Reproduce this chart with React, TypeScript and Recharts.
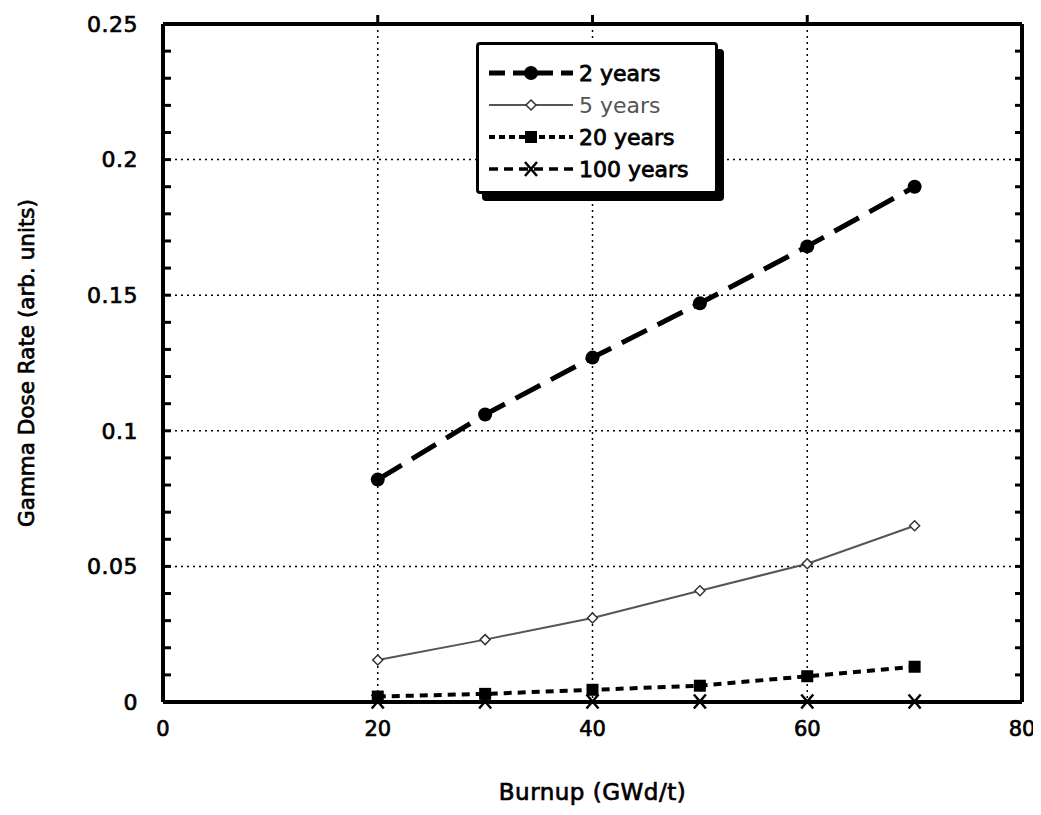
import { CartesianGrid, Legend, Line, LineChart, XAxis, YAxis } from "recharts";

const burnup = [20, 30, 40, 50, 60, 70];
const years2 = [0.082, 0.106, 0.127, 0.147, 0.168, 0.19];
const years5 = [0.0155, 0.023, 0.031, 0.041, 0.051, 0.065];
const years20 = [0.002, 0.003, 0.0045, 0.006, 0.0095, 0.013];
const years100 = [0.0002, 0.0002, 0.0002, 0.0002, 0.0002, 0.0002];

const xTicks = [0, 20, 40, 60, 80];
const xTopTicks = [20, 40, 60];
const yTicks = [0, 0.05, 0.1, 0.15, 0.2, 0.25];
const yMinorTicks = Array.from({ length: 26 }, (_, i) => i / 100);

const data = burnup.map((b, i) => ({
  burnup: b,
  y2: years2[i],
  y5: years5[i],
  y20: years20[i],
  y100: years100[i],
}));

const FONT = "'DejaVu Sans', 'Liberation Sans', Arial, sans-serif";
const textStyle = { fill: "#000", fontFamily: FONT, stroke: "#000", strokeWidth: 0.7 };
const blank = () => "";
const majorOnly = (v: number) => (yTicks.some((t) => Math.abs(t - v) < 1e-9) ? String(v) : "");

const Circle = (p: any) => <circle cx={p.cx} cy={p.cy} r={7} fill="#000" stroke="none" />;
const Diamond = (p: any) => (
  <path
    d={`M${p.cx},${p.cy - 5}L${p.cx + 5},${p.cy}L${p.cx},${p.cy + 5}L${p.cx - 5},${p.cy}Z`}
    fill="#fff"
    stroke="#333"
    strokeWidth={1.5}
  />
);
const Square = (p: any) => <rect x={p.cx - 6} y={p.cy - 6} width={12} height={12} fill="#000" />;
const Cross = (p: any) => (
  <path
    d={`M${p.cx - 6},${p.cy - 7}L${p.cx + 6},${p.cy + 7}M${p.cx + 6},${p.cy - 7}L${p.cx - 6},${p.cy + 7}`}
    stroke="#000"
    strokeWidth={2.5}
  />
);

const legendRows = [
  { label: "2 years", dash: "16 8", width: 5, marker: "circle", color: "#000" },
  { label: "5 years", dash: undefined, width: 2, marker: "diamond", color: "#555" },
  { label: "20 years", dash: "6 4", width: 4, marker: "square", color: "#000" },
  { label: "100 years", dash: "9 6", width: 3.5, marker: "cross", color: "#000" },
];

function LegendBox() {
  return (
    <div
      style={{
        width: 242,
        height: 152,
        border: "3px solid #000",
        borderRadius: 4,
        boxShadow: "6px 7px 0 #000",
        background: "#fff",
        boxSizing: "border-box",
        padding: "12px 0 0 8px",
        fontFamily: FONT,
      }}
    >
      {legendRows.map((r) => (
        <div key={r.label} style={{ display: "flex", alignItems: "center", height: 32 }}>
          <svg width={90} height={24}>
            <line x1={2} y1={12} x2={86} y2={12} stroke={r.color} strokeWidth={r.width} strokeDasharray={r.dash} />
            {r.marker === "circle" && <Circle cx={44} cy={12} />}
            {r.marker === "diamond" && <Diamond cx={44} cy={12} />}
            {r.marker === "square" && <Square cx={44} cy={12} />}
            {r.marker === "cross" && <Cross cx={44} cy={12} />}
          </svg>
          <span
            style={{
              fontSize: 22,
              color: r.label === "5 years" ? "#555" : "#000",
              WebkitTextStroke: r.label === "5 years" ? "0" : "0.8px #000",
              marginLeft: 2,
            }}
          >
            {r.label}
          </span>
        </div>
      ))}
    </div>
  );
}

export default function App() {
  return (
    <div style={{ margin: -8, width: 1041, height: 815, background: "#fff", position: "relative" }}>
      <LineChart width={1041} height={815} data={data} margin={{ top: 23, right: 18, left: 0, bottom: 0 }}>
        <CartesianGrid
          horizontalValues={[0.05, 0.1, 0.15, 0.2]}
          verticalValues={[20, 40, 60]}
          stroke="#000"
          strokeDasharray="2 4"
          strokeWidth={1.5}
        />
        <XAxis
          dataKey="burnup"
          type="number"
          domain={[0, 80]}
          ticks={xTicks}
          interval={0}
          height={113}
          axisLine={{ stroke: "#000", strokeWidth: 4 }}
          tickLine={false}
          tick={{ ...textStyle, fontSize: 21 }}
          tickMargin={13}
          label={{ value: "Burnup (GWd/t)", position: "insideBottom", offset: 15, fontSize: 23, letterSpacing: 0.5, ...textStyle }}
        />
        <XAxis
          xAxisId="top"
          orientation="top"
          dataKey="burnup"
          type="number"
          domain={[0, 80]}
          ticks={xTopTicks}
          interval={0}
          height={1}
          axisLine={{ stroke: "#000", strokeWidth: 4 }}
          tickLine={{ stroke: "#000", strokeWidth: 3 }}
          tickSize={9}
          tickFormatter={blank}
        />
        <YAxis
          type="number"
          domain={[0, 0.25]}
          ticks={yMinorTicks}
          interval={0}
          width={163}
          axisLine={{ stroke: "#000", strokeWidth: 4 }}
          tickLine={{ stroke: "#000", strokeWidth: 3 }}
          tickSize={-8}
          tickFormatter={majorOnly}
          tick={{ ...textStyle, fontSize: 22, letterSpacing: 0.5 }}
          tickMargin={33}
          label={{ value: "Gamma Dose Rate (arb. units)", angle: -90, position: "insideLeft", offset: 26, fontSize: 21.5, ...textStyle, style: { textAnchor: "middle" } }}
        />
        <YAxis
          yAxisId="right"
          orientation="right"
          type="number"
          domain={[0, 0.25]}
          ticks={yMinorTicks}
          interval={0}
          width={1}
          axisLine={{ stroke: "#000", strokeWidth: 4 }}
          tickLine={{ stroke: "#000", strokeWidth: 3 }}
          tickSize={-7}
          tickFormatter={blank}
        />
        <Legend
          layout="horizontal"
          verticalAlign="middle"
          align="center"
          content={() => <LegendBox />}
          wrapperStyle={{ position: "absolute", left: 476, top: 42, width: 250, height: 160 }}
        />
        <Line dataKey="y2" stroke="#000" strokeWidth={5} strokeDasharray="28 12" dot={<Circle />} isAnimationActive={false} />
        <Line dataKey="y5" stroke="#555" strokeWidth={2} dot={<Diamond />} isAnimationActive={false} />
        <Line dataKey="y20" stroke="#000" strokeWidth={4} strokeDasharray="8 6" dot={<Square />} isAnimationActive={false} />
        <Line
          dataKey="y100"
          xAxisId="top"
          yAxisId="right"
          stroke="#000"
          strokeWidth={3}
          strokeDasharray="10 7"
          dot={<Cross />}
          isAnimationActive={false}
        />
      </LineChart>
    </div>
  );
}
